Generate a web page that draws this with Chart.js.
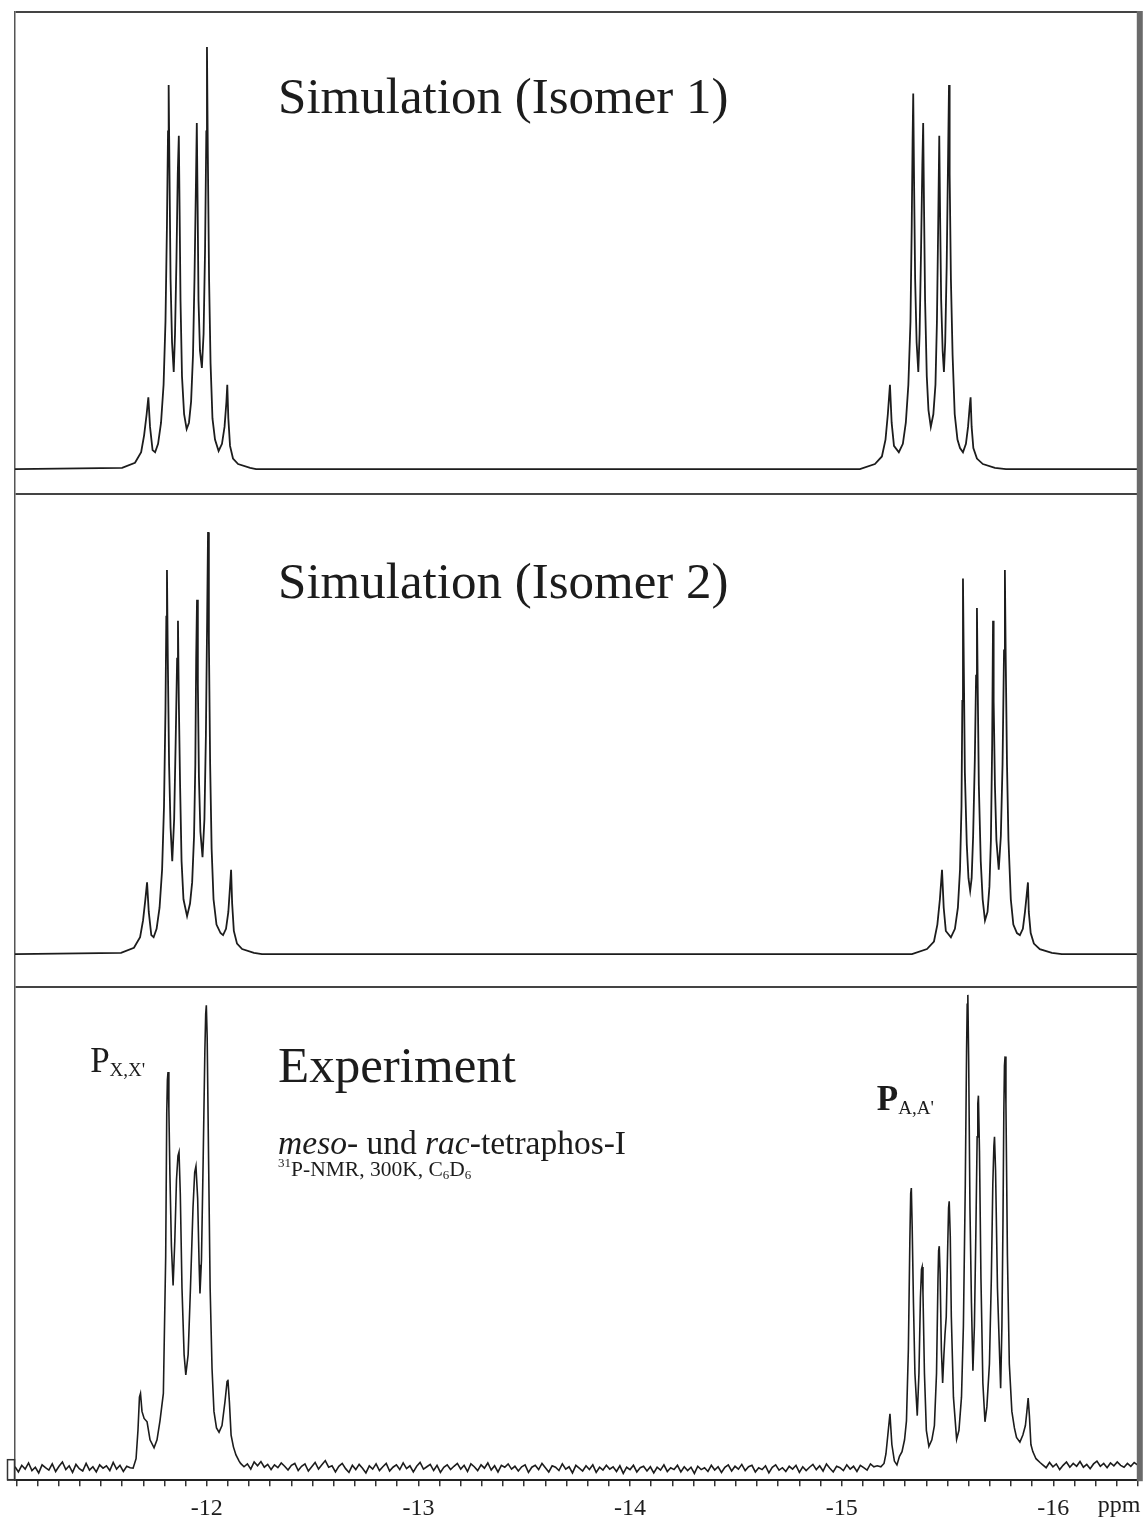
<!DOCTYPE html>
<html>
<head>
<meta charset="utf-8">
<title>31P-NMR tetraphos-I</title>
<script src="https://cdn.jsdelivr.net/npm/chart.js"></script>
<style>
  html, body { margin: 0; padding: 0; background: #fff; }
  #wrap { width: 1146px; height: 1531px; }
</style>
</head>
<body>
<div id="wrap"><canvas id="nmr" width="1146" height="1531"></canvas></div>
<script>
// x range of the plot (ppm, drawn high field to the right)
const ppmLeft = -11.094;
const ppmRight = -16.399;
const majorTicks = [-12, -13, -14, -15, -16];

// Simulation, isomer 1: [ppm, intensity] (tallest line = 100)
const iso1Xx = [
  [-11.600,0.3],[-11.661,1.5],[-11.690,4],[-11.704,8],[-11.716,13],[-11.724,17],[-11.732,10],[-11.744,4.5],
  [-11.756,4],[-11.770,6],[-11.784,11],[-11.796,20],[-11.805,35],[-11.812,58],[-11.817,80],[-11.820,91],
  [-11.824,70],[-11.829,45],[-11.836,30],[-11.844,23],[-11.850,32],[-11.857,50],[-11.863,70],[-11.868,79],
  [-11.872,60],[-11.876,40],[-11.883,22],[-11.893,13],[-11.905,9.5],[-11.916,11],[-11.926,16],[-11.935,27],
  [-11.942,45],[-11.949,68],[-11.953,82],[-11.957,62],[-11.961,40],[-11.968,28],[-11.977,24],[-11.985,32],
  [-11.992,52],[-11.998,80],[-12.001,100],[-12.005,75],[-12.011,45],[-12.018,25],[-12.027,12],[-12.039,7],
  [-12.056,4.3],[-12.072,6],[-12.084,10],[-12.093,16],[-12.097,20],[-12.102,12],[-12.110,5.5],[-12.124,2.5],
  [-12.148,1.2],[-12.205,0.3],[-12.233,0]
];
const iso1Aa = [
  [-15.086,0],[-15.157,1.2],[-15.190,3],[-15.207,7],[-15.218,13],[-15.228,20],[-15.236,11],[-15.247,5.5],
  [-15.270,4],[-15.289,6],[-15.303,11],[-15.315,20],[-15.325,35],[-15.331,58],[-15.335,78],[-15.338,89],
  [-15.342,68],[-15.347,45],[-15.354,30],[-15.362,23],[-15.368,32],[-15.375,52],[-15.381,72],[-15.385,82],
  [-15.389,62],[-15.394,40],[-15.402,22],[-15.410,14],[-15.421,10],[-15.433,13],[-15.443,20],[-15.450,35],
  [-15.456,58],[-15.461,79],[-15.465,60],[-15.470,40],[-15.477,28],[-15.483,23],[-15.489,30],[-15.496,48],
  [-15.503,75],[-15.507,91],[-15.510,70],[-15.516,45],[-15.524,27],[-15.534,13],[-15.547,7],[-15.559,5],
  [-15.573,4],[-15.587,6],[-15.597,10],[-15.605,15],[-15.609,17],[-15.614,10],[-15.622,5],[-15.639,2.5],
  [-15.667,1.2],[-15.724,0.3],[-15.776,0]
];

// Simulation, isomer 2
const iso2Xx = [
  [-11.595,0.3],[-11.656,1.5],[-11.685,4],[-11.699,8],[-11.710,13],[-11.718,17],[-11.726,10],[-11.738,4.5],
  [-11.749,4],[-11.763,6],[-11.777,11],[-11.789,20],[-11.798,35],[-11.805,58],[-11.809,80],[-11.812,91],
  [-11.816,70],[-11.822,45],[-11.829,30],[-11.837,22],[-11.846,32],[-11.853,50],[-11.860,70],[-11.864,79],
  [-11.868,60],[-11.874,40],[-11.881,22],[-11.890,13],[-11.907,9],[-11.921,12],[-11.931,17],[-11.940,28],
  [-11.946,45],[-11.950,70],[-11.954,84],[-11.958,64],[-11.963,42],[-11.970,29],[-11.980,23],[-11.989,32],
  [-11.996,52],[-12.002,80],[-12.006,100],[-12.010,75],[-12.016,45],[-12.023,25],[-12.032,13],[-12.046,7],
  [-12.065,5],[-12.077,4.5],[-12.091,6],[-12.102,10],[-12.110,16],[-12.115,20],[-12.120,12],[-12.128,5.5],
  [-12.143,2.5],[-12.167,1.2],[-12.223,0.3],[-12.261,0]
];
const iso2Aa = [
  [-15.332,0],[-15.403,1.2],[-15.436,3],[-15.452,7],[-15.464,13],[-15.474,20],[-15.482,11],[-15.492,5.5],
  [-15.516,4],[-15.535,6],[-15.549,11],[-15.559,20],[-15.566,35],[-15.570,60],[-15.573,89],[-15.577,68],
  [-15.582,43],[-15.591,26],[-15.599,18],[-15.607,15],[-15.614,18],[-15.621,28],[-15.629,46],[-15.635,66],
  [-15.639,82],[-15.643,62],[-15.648,40],[-15.657,22],[-15.666,13],[-15.677,8],[-15.689,10],[-15.698,16],
  [-15.705,27],[-15.711,50],[-15.715,79],[-15.718,60],[-15.724,40],[-15.731,27],[-15.742,20],[-15.752,28],
  [-15.760,45],[-15.767,72],[-15.771,91],[-15.775,70],[-15.781,45],[-15.788,27],[-15.799,13],[-15.811,7],
  [-15.828,5],[-15.842,4.5],[-15.856,6],[-15.866,10],[-15.874,14],[-15.880,17],[-15.884,10],[-15.893,5],
  [-15.908,2.5],[-15.936,1.2],[-15.993,0.3],[-16.040,0]
];

// Experiment: multiplets
const exptXx = [
  [-11.652,0],[-11.666,2],[-11.675,8],[-11.682,15],[-11.687,15.8],[-11.694,12],[-11.704,10.5],[-11.718,9.8],
  [-11.732,6],[-11.751,4.3],[-11.765,6],[-11.779,10],[-11.795,15.8],[-11.806,44.7],[-11.811,75],[-11.814,82],
  [-11.817,83.7],[-11.821,76],[-11.826,62],[-11.833,47],[-11.841,38.6],[-11.849,48],[-11.857,61],[-11.864,66],
  [-11.869,66.8],[-11.875,58],[-11.883,38],[-11.893,24],[-11.901,19.7],[-11.912,24],[-11.923,38],[-11.935,55],
  [-11.943,62.5],[-11.949,63.8],[-11.957,57],[-11.964,43],[-11.968,36.9],[-11.975,44],[-11.983,65],[-11.991,88],
  [-11.995,96],[-11.998,97.8],[-12.002,91],[-12.009,64],[-12.016,38],[-12.025,21],[-12.034,12],[-12.046,8.5],
  [-12.058,7.6],[-12.072,9],[-12.086,14],[-12.096,18.3],[-12.100,18.7],[-12.107,14],[-12.115,7],[-12.126,4.5],
  [-12.138,2.8],[-12.153,1.5]
];
const exptAa = [
  [-15.185,0.3],[-15.200,1],[-15.209,3],[-15.218,7],[-15.228,11.5],[-15.237,5],[-15.249,1.5],[-15.261,0.7],
  [-15.273,2.5],[-15.285,3.5],[-15.297,6],[-15.306,10],[-15.315,25],[-15.322,48],[-15.326,58],[-15.329,59.2],
  [-15.333,51],[-15.339,35],[-15.346,20],[-15.357,11.1],[-15.365,20],[-15.372,36],[-15.377,42],[-15.380,42.5],
  [-15.384,37],[-15.391,20],[-15.400,8],[-15.412,4.6],[-15.426,6],[-15.438,9],[-15.448,20],[-15.455,40],
  [-15.458,46],[-15.461,46.9],[-15.465,41],[-15.471,25],[-15.477,18],[-15.483,24],[-15.488,28.2],[-15.494,32],
  [-15.500,45],[-15.505,55],[-15.508,56.4],[-15.513,49],[-15.518,32],[-15.528,15],[-15.543,6.1],[-15.554,8],
  [-15.566,15],[-15.575,30],[-15.584,60],[-15.590,88],[-15.593,98],[-15.596,100],[-15.600,86],[-15.606,55],
  [-15.613,35],[-15.620,20.6],[-15.627,30],[-15.634,50],[-15.640,70],[-15.643,77],[-15.646,78.7],[-15.651,67],
  [-15.658,40],[-15.667,18],[-15.677,9.8],[-15.686,13],[-15.698,22],[-15.707,40],[-15.714,60],[-15.719,68],
  [-15.722,70],[-15.727,63],[-15.736,38],[-15.751,16.9],[-15.757,30],[-15.762,52],[-15.766,75],[-15.769,85],
  [-15.772,87],[-15.776,77],[-15.783,45],[-15.792,22],[-15.804,12],[-15.816,8.5],[-15.826,6.5],[-15.842,5.5],
  [-15.856,7],[-15.868,9],[-15.875,12],[-15.881,14.8],[-15.887,11],[-15.894,5],[-15.903,3.5],[-15.918,2],
  [-15.937,1.2]
];

// Experiment: baseline noise, sampled every 0.016 ppm from the given start
const noiseStep = 0.016;
const noiseLowStart = -11.094;
const noiseLow = [0.3,-0.8,0.6,-0.2,1.1,-0.5,0.2,-1.0,0.7,0.1,
  -0.4,0.9,-0.7,0.4,1.3,-0.3,0.5,-0.9,0.8,-0.1,
  -0.6,1.0,-0.4,0.3,-0.8,0.7,0.0,0.5,-0.5,1.2,
  -0.2,0.6,-0.7,0.4,0.1];
const noiseMidStart = -12.16;
const noiseMid = [1.0,0.3,0.9,-0.2,1.3,0.5,1.4,0.2,0.8,-0.3,
  0.7,0.1,1.1,0.4,-0.4,0.6,1.0,-0.5,0.4,0.9,
  -0.6,0.3,1.2,-0.2,0.7,1.6,0.2,0.5,-0.8,0.4,
  1.0,-0.1,-0.9,0.6,-0.3,0.8,0.0,-1.0,0.5,-0.2,
  0.9,-0.5,0.3,1.0,-0.6,0.2,0.7,-0.3,1.1,-0.1,
  0.5,-0.8,0.4,1.2,-0.2,0.3,0.8,-0.5,0.6,-0.9,
  0.2,0.7,-0.3,0.4,1.0,-0.2,0.6,-0.7,0.9,0.3,
  -0.5,0.7,0.0,1.1,-0.4,0.5,-0.8,0.6,0.2,0.9,
  -0.2,0.4,-0.6,0.3,0.7,-0.9,0.2,0.6,-0.3,1.0,
  0.1,-0.8,0.5,0.2,-0.5,0.9,-0.2,0.3,-1.0,0.6,
  0.0,-0.6,0.5,-0.3,0.7,-0.9,0.2,-0.4,0.6,-0.2,
  0.3,-0.7,0.5,-1.1,0.2,-0.3,0.6,-0.8,0.1,0.4,
  -0.6,0.3,-1.0,0.2,-0.4,0.7,-0.7,0.1,-0.3,0.6,
  -0.8,0.3,-0.5,0.2,-1.1,0.4,-0.3,0.1,-0.7,0.6,
  -0.4,0.3,-0.9,0.2,0.7,-0.6,0.4,-0.2,0.8,-0.5,
  0.3,0.6,-0.8,0.1,-0.3,0.5,-1.0,0.2,0.7,-0.4,
  0.1,-0.7,0.4,-0.2,0.6,-0.9,0.3,-0.5,0.2,0.8,
  -0.3,0.5,-0.6,0.9,0.0,-0.8,0.4,0.1,-0.5,0.7,
  -0.2,0.4,-0.7,0.6,0.1,-0.4,0.9,0.3,0.5];
const noiseHighStart = -15.95;
const noiseHigh = [0.7,0.1,1.2,0.3,0.9,-0.3,0.6,1.3,0.2,1.0,
  0.4,1.4,0.2,0.8,-0.1,0.9,1.5,0.4,1.0,0.1,
  1.1,0.5,1.3,0.6,0.2,1.0,0.4,1.2,0.7];

// Panel stacking on the shared y scale; y = base + lift + intensity * gain
const yTop = 2.978;
const panels = {
  iso1: { base: 2, lift: 0.0508, gain: 0.00856 },
  iso2: { base: 1, lift: 0.067, gain: 0.00856 },
  expt: { base: 0, lift: 0.0244, gain: 0.0096 }
};

const SERIF = '"Liberation Serif", "Times New Roman", serif';
const INK = '#1c1c1c';

// text placed in data coordinates (ppm, stacked y)
const labels = [
  { x: -12.337, y: 2.774, runs: [{ text: 'Simulation (Isomer 1)', size: 51 }] },
  { x: -12.337, y: 1.789, runs: [{ text: 'Simulation (Isomer 2)', size: 51 }] },
  { x: -12.337, y: 0.807, runs: [{ text: 'Experiment', size: 51 }] },
  { x: -12.337, y: 0.661, runs: [
    { text: 'meso', size: 33.5, italic: true }, { text: '- und ', size: 33.5 },
    { text: 'rac', size: 33.5, italic: true }, { text: '-tetraphos-I', size: 33.5 }] },
  { x: -12.337, y: 0.618, runs: [
    { text: '31', size: 13, dy: -9 }, { text: 'P-NMR, 300K, C', size: 21.5 },
    { text: '6', size: 13, dy: 3 }, { text: 'D', size: 21.5 }, { text: '6', size: 13, dy: 3 }] },
  { x: -11.449, y: 0.827, runs: [{ text: 'P', size: 35 }, { text: "X,X'", size: 19, dy: 4 }] },
  { x: -15.166, y: 0.750, runs: [{ text: 'P', size: 35, bold: true }, { text: "A,A'", size: 19, dy: 4 }] }
];

function noisePoints(start, values) {
  return values.map((v, i) => [start - i * noiseStep, v]);
}

function toXY(pairs, p) {
  return pairs.map(([ppm, v]) => ({ x: ppm, y: p.base + p.lift + v * p.gain }));
}

function simTrace(left, right, p) {
  return toXY([[ppmLeft, 0], ...left, ...right, [ppmRight, 0]], p);
}

const exptTrace = toXY([
  ...noisePoints(noiseLowStart, noiseLow),
  ...exptXx,
  ...noisePoints(noiseMidStart, noiseMid),
  ...exptAa,
  ...noisePoints(noiseHighStart, noiseHigh)
], panels.expt);

const lineStyle = { borderColor: INK, borderWidth: 1.8, pointRadius: 0, fill: false, tension: 0 };

// frame pieces, axis end box and the text
const decorations = {
  id: 'decorations',
  afterDraw(chart) {
    const { ctx, chartArea: a, scales: { x, y } } = chart;
    ctx.save();

    ctx.fillStyle = '#6a6a6a';
    ctx.fillRect(a.right - 1, a.top - 1, 6, a.bottom - a.top + 2);

    ctx.strokeStyle = '#333';
    ctx.lineWidth = 1.5;
    ctx.beginPath();
    ctx.moveTo(a.left - 8, a.bottom);
    ctx.lineTo(a.left, a.bottom);
    ctx.stroke();
    ctx.fillStyle = '#fff';
    ctx.fillRect(a.left - 8, a.bottom - 20, 7, 20);
    ctx.strokeRect(a.left - 7.5, a.bottom - 20.5, 7, 20);

    ctx.fillStyle = INK;
    ctx.textBaseline = 'alphabetic';
    ctx.textAlign = 'left';
    for (const lab of labels) {
      let px = x.getPixelForValue(lab.x);
      const py = y.getPixelForValue(lab.y);
      for (const r of lab.runs) {
        ctx.font = (r.italic ? 'italic ' : '') + (r.bold ? 'bold ' : '') + r.size + 'px ' + SERIF;
        ctx.fillText(r.text, px, py + (r.dy || 0));
        px += ctx.measureText(r.text).width;
      }
    }

    ctx.font = '24px ' + SERIF;
    ctx.textBaseline = 'top';
    ctx.fillText('ppm', a.right - 40, a.bottom + 6 + 8);
    ctx.restore();
  }
};

new Chart(document.getElementById('nmr'), {
  type: 'line',
  data: {
    datasets: [
      { label: 'Simulation (Isomer 1)', data: simTrace(iso1Xx, iso1Aa, panels.iso1), ...lineStyle },
      { label: 'Simulation (Isomer 2)', data: simTrace(iso2Xx, iso2Aa, panels.iso2), ...lineStyle },
      { label: 'Experiment', data: exptTrace, ...lineStyle, borderWidth: 1.6 }
    ]
  },
  options: {
    responsive: false,
    animation: false,
    layout: { padding: { left: 15, right: 8, top: 12, bottom: 0 } },
    plugins: { legend: { display: false }, tooltip: { enabled: false } },
    scales: {
      x: {
        type: 'linear',
        reverse: true,
        min: ppmRight,
        max: ppmLeft,
        afterBuildTicks: (axis) => {
          const t = [];
          for (let i = 111; i <= 164; i++) t.push({ value: -i / 10 });
          axis.ticks = t;
        },
        ticks: {
          autoSkip: false,
          maxRotation: 0,
          padding: 8,
          color: INK,
          font: { family: SERIF, size: 24 },
          callback: (v) => (majorTicks.includes(v) ? String(v) : '')
        },
        grid: { drawOnChartArea: false, drawTicks: true, tickLength: 6, color: '#333', lineWidth: 1.5 },
        border: { display: true, color: '#222', width: 2 }
      },
      y: {
        min: 0,
        max: yTop,
        afterBuildTicks: (axis) => { axis.ticks = [1, 2, yTop].map((v) => ({ value: v })); },
        ticks: { display: false },
        grid: { drawTicks: false, color: '#444', lineWidth: 2 },
        border: { display: true, color: '#555', width: 1.5 }
      }
    }
  },
  plugins: [decorations]
});
</script>
</body>
</html>
